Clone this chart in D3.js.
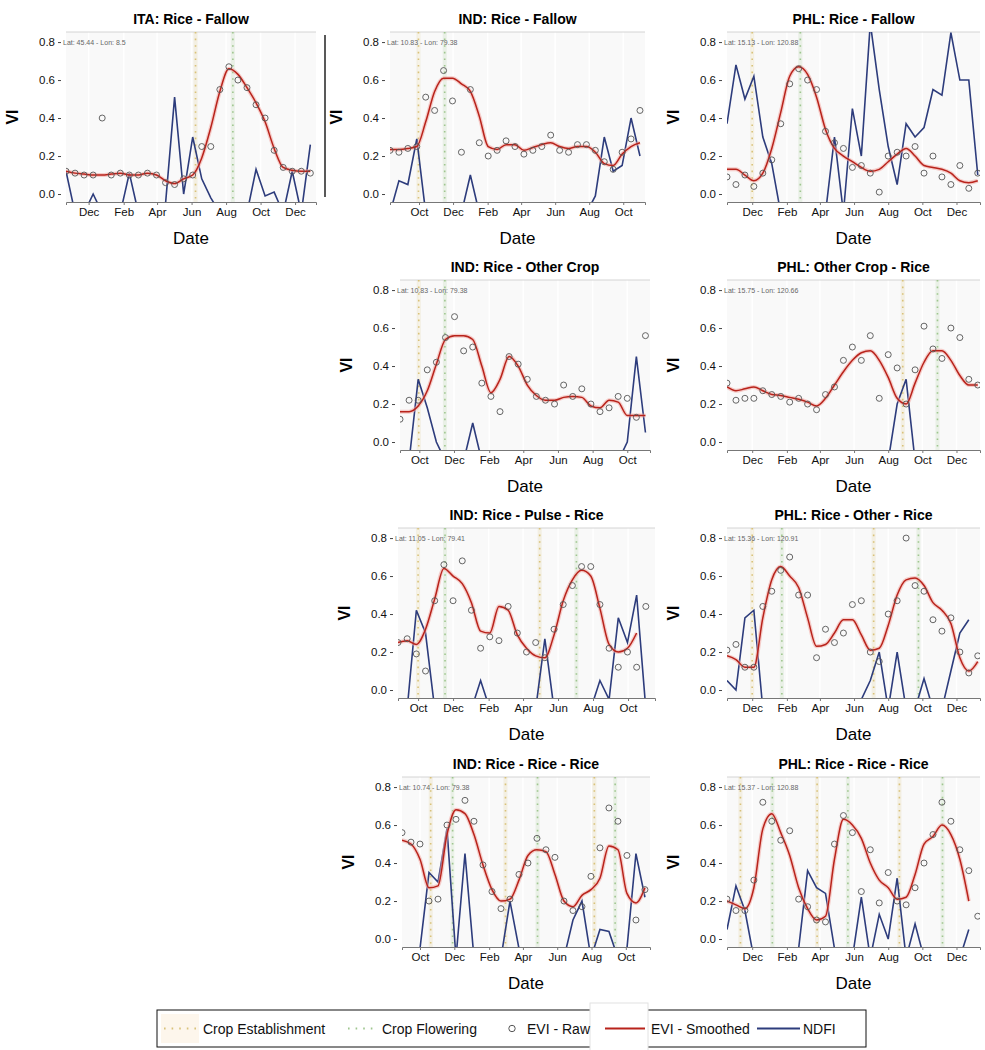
<!DOCTYPE html>
<html>
<head>
<meta charset="utf-8">
<script src="https://cdn.jsdelivr.net/npm/d3@7"></script>
<style>
  body { margin: 0; background: #fff; }
  svg { display: block; font-family: "Liberation Sans", Arial, sans-serif; }
</style>
</head>
<body>
<svg id="chart" width="985" height="1050"></svg>
<script>
// ---- data (16-day composites) ----
const panelTitles = [
  'ITA: Rice - Fallow', 'IND: Rice - Fallow', 'PHL: Rice - Fallow',
  'IND: Rice - Other Crop', 'PHL: Other Crop - Rice',
  'IND: Rice - Pulse - Rice', 'PHL: Rice - Other - Rice',
  'IND: Rice - Rice - Rice', 'PHL: Rice - Rice - Rice'
];
const panelCoords = [
  'Lat: 45.44 - Lon: 8.5', 'Lat: 10.83 - Lon: 79.38', 'Lat: 15.13 - Lon: 120.88',
  'Lat: 10.83 - Lon: 79.38', 'Lat: 15.75 - Lon: 120.66',
  'Lat: 11.05 - Lon: 79.41', 'Lat: 15.36 - Lon: 120.91',
  'Lat: 10.74 - Lon: 79.38', 'Lat: 15.37 - Lon: 120.88'
];
const seriesStart = ['2014-10-22', '2015-08-10', '2014-10-17', '2015-08-28', '2014-10-17',
                     '2015-08-27', '2014-10-17', '2015-08-30', '2014-10-17'];
const domainEnd = ['2016-01-07', '2016-11-09', '2016-01-12', '2016-11-10', '2016-01-12',
                   '2016-11-17', '2016-01-12', '2016-11-13', '2016-01-12'];
const stepDays = 16;

const establishment = [
  ['2015-06-08'], ['2015-09-30'], ['2014-12-01'], ['2015-09-30'], ['2015-08-27'],
  ['2015-10-01', '2016-04-30'], ['2014-12-01', '2015-07-06'],
  ['2015-10-20', '2016-03-01', '2016-08-06'], ['2014-11-10', '2015-03-27', '2015-08-21']
];
const flowering = [
  ['2015-08-13'], ['2015-11-16'], ['2015-02-25'], ['2015-11-15'], ['2015-10-28'],
  ['2015-11-17', '2016-07-03'], ['2015-01-23', '2015-09-24'],
  ['2015-11-28', '2016-04-27', '2016-09-12'], ['2015-01-06', '2015-05-21', '2015-11-06']
];

// ITA: Rice - Fallow
const itaRF_smooth = [0.12,0.11,0.105,0.10,0.10,0.105,0.11,0.10,0.10,0.11,0.10,0.07,0.055,0.08,0.10,0.19,0.35,0.54,0.66,0.63,0.56,0.48,0.38,0.24,0.14,0.125,0.12,0.12];
const itaRF_raw    = [0.12,0.11,0.10,0.10,0.40,0.10,0.11,0.10,0.10,0.11,0.10,0.06,0.05,0.08,0.10,0.25,0.25,0.55,0.67,0.60,0.56,0.47,0.40,0.23,0.14,0.12,0.12,0.11];
const itaRF_ndfi   = [0.12,-0.1,-0.1,0.0,-0.1,-0.1,-0.1,0.11,-0.1,-0.1,-0.1,-0.05,0.51,0.0,0.30,0.08,-0.02,-0.1,-0.1,-0.1,-0.1,0.13,-0.01,0.01,-0.1,0.12,-0.1,0.26];
// IND: Rice - Fallow
const indRF_smooth = [0.235,0.235,0.24,0.25,0.38,0.54,0.61,0.61,0.58,0.54,0.41,0.25,0.235,0.26,0.26,0.23,0.245,0.26,0.27,0.25,0.24,0.25,0.25,0.22,0.16,0.15,0.21,0.25,0.27];
const indRF_raw    = [0.23,0.22,0.24,0.25,0.51,0.44,0.65,0.49,0.22,0.55,0.27,0.20,0.23,0.28,0.25,0.21,0.23,0.25,0.31,0.23,0.22,0.26,0.26,0.23,0.17,0.13,0.22,0.29,0.44];
const indRF_ndfi   = [-0.1,0.07,0.05,0.29,-0.1,-0.1,-0.1,-0.1,-0.1,0.10,-0.1,-0.1,-0.1,-0.1,-0.1,-0.1,-0.1,-0.1,-0.1,-0.1,-0.1,-0.1,-0.1,-0.01,0.30,0.12,0.15,0.40,0.20];
// PHL: Rice - Fallow
const phlRF_smooth = [0.13,0.13,0.10,0.07,0.11,0.24,0.43,0.62,0.67,0.63,0.51,0.34,0.24,0.20,0.17,0.14,0.12,0.13,0.17,0.21,0.24,0.20,0.15,0.14,0.13,0.11,0.07,0.06,0.07];
const phlRF_raw    = [0.09,0.05,0.10,0.04,0.11,0.18,0.37,0.58,0.66,0.60,0.55,0.33,0.27,0.24,0.14,0.15,0.11,0.01,0.20,0.22,0.20,0.25,0.11,0.20,0.09,0.05,0.15,0.03,0.11];
const phlRF_ndfi   = [0.37,0.68,0.50,0.62,0.30,0.16,-0.1,-0.1,-0.1,-0.1,-0.1,-0.1,0.30,-0.1,0.45,0.20,0.90,0.55,0.25,0.05,0.37,0.30,0.35,0.55,0.52,0.85,0.60,0.60,0.10];
// IND: Rice - Other Crop
const indROC_smooth = [0.16,0.16,0.19,0.27,0.41,0.54,0.56,0.56,0.54,0.40,0.26,0.33,0.45,0.40,0.30,0.245,0.22,0.22,0.235,0.24,0.235,0.19,0.18,0.22,0.21,0.14,0.14,0.14];
const indROC_raw    = [0.12,0.22,0.22,0.38,0.42,0.55,0.66,0.48,0.50,0.31,0.24,0.16,0.45,0.41,0.33,0.24,0.22,0.20,0.30,0.24,0.28,0.20,0.16,0.18,0.24,0.23,0.13,0.56];
const indROC_ndfi   = [-0.1,-0.1,0.33,0.18,0.0,-0.1,-0.1,-0.1,0.10,-0.1,-0.1,-0.1,-0.1,-0.1,-0.1,-0.1,-0.1,-0.1,-0.1,-0.1,-0.1,-0.1,-0.1,-0.1,-0.1,0.0,0.45,0.05];
// PHL: Other Crop - Rice
const phlOCR_smooth = [0.29,0.27,0.28,0.29,0.27,0.25,0.245,0.235,0.225,0.21,0.19,0.23,0.30,0.37,0.43,0.47,0.48,0.43,0.34,0.23,0.20,0.31,0.42,0.48,0.48,0.43,0.35,0.30,0.30];
const phlOCR_raw    = [0.31,0.22,0.23,0.23,0.27,0.25,0.24,0.21,0.23,0.20,0.17,0.25,0.29,0.43,0.50,0.43,0.56,0.23,0.46,0.39,0.20,0.38,0.61,0.49,0.44,0.60,0.55,0.33,0.30];
const phlOCR_ndfi   = [-0.1,-0.1,-0.1,-0.1,-0.1,-0.1,-0.1,-0.1,-0.1,-0.1,-0.1,-0.1,-0.1,-0.1,-0.1,-0.1,-0.1,-0.1,-0.1,0.20,0.33,-0.1,-0.1,-0.1,-0.1,-0.1,-0.1,-0.1,-0.1];
// IND: Rice - Pulse - Rice
const indRPR_smooth = [0.25,0.26,0.24,0.32,0.48,0.64,0.60,0.56,0.46,0.31,0.30,0.44,0.42,0.29,0.22,0.18,0.17,0.29,0.47,0.58,0.63,0.60,0.43,0.24,0.20,0.22,0.30];
const indRPR_raw    = [0.25,0.27,0.19,0.10,0.47,0.66,0.47,0.68,0.42,0.22,0.28,0.26,0.44,0.30,0.20,0.25,0.17,0.32,0.45,0.55,0.65,0.65,0.45,0.22,0.12,0.20,0.12,0.44];
const indRPR_ndfi   = [-0.1,-0.1,0.42,0.30,-0.1,-0.1,-0.1,-0.1,-0.1,0.05,-0.1,-0.1,-0.1,-0.1,-0.1,-0.1,0.27,-0.1,-0.1,-0.1,-0.1,-0.1,0.05,-0.05,0.38,0.25,0.50,-0.1];
// PHL: Rice - Other - Rice
const phlROR_smooth = [0.18,0.16,0.12,0.12,0.38,0.58,0.65,0.60,0.54,0.38,0.23,0.24,0.30,0.37,0.37,0.29,0.21,0.22,0.34,0.50,0.58,0.59,0.55,0.46,0.42,0.35,0.17,0.10,0.15];
const phlROR_raw    = [0.21,0.24,0.12,0.12,0.44,0.52,0.63,0.70,0.50,0.50,0.17,0.32,0.25,0.30,0.45,0.47,0.20,0.15,0.40,0.47,0.80,0.55,0.52,0.37,0.31,0.38,0.20,0.09,0.18];
const phlROR_ndfi   = [0.05,0.0,0.38,0.42,-0.1,-0.1,-0.1,-0.1,-0.1,-0.1,-0.1,-0.1,-0.1,-0.1,-0.1,-0.05,0.05,0.20,-0.1,0.20,-0.1,-0.1,0.06,-0.1,-0.1,0.10,0.30,0.37];
// IND: Rice - Rice - Rice
const indRRR_smooth = [0.52,0.50,0.42,0.27,0.28,0.55,0.68,0.66,0.55,0.39,0.26,0.20,0.21,0.31,0.44,0.47,0.46,0.34,0.20,0.17,0.23,0.26,0.32,0.49,0.47,0.24,0.19,0.27];
const indRRR_raw    = [0.56,0.51,0.50,0.20,0.21,0.60,0.63,0.73,0.62,0.39,0.25,0.16,0.21,0.34,0.40,0.53,0.47,0.43,0.20,0.15,0.17,0.33,0.48,0.69,0.62,0.44,0.10,0.26];
const indRRR_ndfi   = [-0.1,-0.1,-0.05,0.35,0.30,0.58,-0.1,0.45,-0.1,-0.1,-0.1,-0.1,0.20,-0.05,-0.1,-0.1,-0.1,-0.1,-0.1,0.10,0.20,-0.1,0.05,0.04,-0.1,-0.05,0.45,0.22];
// PHL: Rice - Rice - Rice
const phlRRR_smooth = [0.20,0.18,0.16,0.27,0.58,0.66,0.56,0.44,0.27,0.16,0.10,0.12,0.42,0.63,0.60,0.53,0.40,0.31,0.27,0.21,0.22,0.34,0.50,0.54,0.60,0.55,0.42,0.20];
const phlRRR_raw    = [0.21,0.15,0.15,0.31,0.72,0.62,0.52,0.57,0.21,0.17,0.10,0.09,0.50,0.65,0.56,0.25,0.47,0.19,0.35,0.20,0.18,0.27,0.40,0.55,0.72,0.62,0.47,0.36,0.12];
const phlRRR_ndfi   = [0.05,0.28,0.15,-0.1,-0.1,-0.1,-0.1,-0.1,-0.05,0.36,0.27,0.24,-0.05,-0.1,-0.1,0.22,-0.1,0.13,0.0,0.32,-0.1,0.08,-0.1,-0.1,-0.1,-0.1,-0.1,0.05];

const yTicks = [0, 0.2, 0.4, 0.6, 0.8];
const legendLabels = ['Crop Establishment', 'Crop Flowering', 'EVI - Raw', 'EVI - Smoothed', 'NDFI'];

// ---- layout ----
const rowTop = [32, 280, 528, 777];
const plotH = 170;
const panelBox = [            // [row, left, right]
  [0, 66, 316], [0, 390, 645], [0, 727, 980],
  [1, 400, 650], [1, 727, 980],
  [2, 398, 655], [2, 727, 980],
  [3, 402, 650], [3, 727, 980]
];
const series = [
  [itaRF_smooth, itaRF_raw, itaRF_ndfi], [indRF_smooth, indRF_raw, indRF_ndfi],
  [phlRF_smooth, phlRF_raw, phlRF_ndfi], [indROC_smooth, indROC_raw, indROC_ndfi],
  [phlOCR_smooth, phlOCR_raw, phlOCR_ndfi], [indRPR_smooth, indRPR_raw, indRPR_ndfi],
  [phlROR_smooth, phlROR_raw, phlROR_ndfi], [indRRR_smooth, indRRR_raw, indRRR_ndfi],
  [phlRRR_smooth, phlRRR_raw, phlRRR_ndfi]
];

const colors = {
  est: '#d9c27a', flow: '#9fc68f', raw: '#555', smooth: '#b8231b', halo: '#f3a7a2', ndfi: '#2d3c7c'
};

const parse = d3.timeParse('%Y-%m-%d');
const svg = d3.select('#chart');

panelBox.forEach(([row, left, right], p) => {
  const top = rowTop[row];
  const bottom = top + plotH;
  const start = parse(seriesStart[p]);
  const x = d3.scaleTime().domain([start, parse(domainEnd[p])]).range([left, right]);
  const y = d3.scaleLinear().domain([-0.042, 0.853]).range([bottom, top]);
  const dateAt = i => d3.timeDay.offset(start, i * stepDays);

  const g = svg.append('g');

  // panel background + grid
  g.append('rect').attr('x', left).attr('y', top).attr('width', right - left).attr('height', plotH)
    .attr('fill', '#f9f9f9');
  const monthTicks = d3.timeMonth.range(x.domain()[0], x.domain()[1]).filter(d => d.getMonth() % 2 === 1);
  g.selectAll('.grid').data(monthTicks).enter().append('line')
    .attr('x1', d => x(d)).attr('x2', d => x(d)).attr('y1', top).attr('y2', bottom)
    .style('stroke', '#fff').style('stroke-width', 1.5);
  g.append('line').attr('x1', left).attr('x2', right).attr('y1', top).attr('y2', top)
    .style('stroke', '#d4d4d4');

  const clipId = 'clip' + p;
  svg.append('clipPath').attr('id', clipId).append('rect')
    .attr('x', left).attr('y', top).attr('width', right - left).attr('height', plotH);
  const inner = g.append('g').attr('clip-path', `url(#${clipId})`);

  // crop calendar lines
  const vlines = establishment[p].map(d => ({ d: parse(d), c: colors.est }))
    .concat(flowering[p].map(d => ({ d: parse(d), c: colors.flow })));
  inner.selectAll('.vband').data(vlines).enter().append('line')
    .attr('x1', d => x(d.d)).attr('x2', d => x(d.d)).attr('y1', top).attr('y2', bottom)
    .style('stroke', d => d.c).style('stroke-opacity', 0.18).style('stroke-width', 4);
  inner.selectAll('.vline').data(vlines).enter().append('line')
    .attr('x1', d => x(d.d)).attr('x2', d => x(d.d)).attr('y1', top).attr('y2', bottom)
    .style('stroke', d => d.c).style('stroke-width', 1.6).style('stroke-dasharray', '1.6,5');

  const [smooth, raw, ndfi] = series[p];
  const line = d3.line().defined(d => d != null).x((d, i) => x(dateAt(i))).y(d => y(d));

  inner.append('path').datum(ndfi)
    .attr('d', line.curve(d3.curveLinear))
    .style('fill', 'none').style('stroke', colors.ndfi).style('stroke-width', 1.6);

  const smoothLine = d3.line().x((d, i) => x(dateAt(i))).y(d => y(d)).curve(d3.curveMonotoneX);
  inner.append('path').datum(smooth).attr('d', smoothLine)
    .style('fill', 'none').style('stroke', colors.halo).style('stroke-width', 4).style('stroke-opacity', 0.55);
  inner.append('path').datum(smooth).attr('d', smoothLine)
    .style('fill', 'none').style('stroke', colors.smooth).style('stroke-width', 1.5);

  inner.selectAll('.raw').data(raw).enter().append('circle')
    .attr('cx', (d, i) => x(dateAt(i))).attr('cy', d => y(d)).attr('r', 3)
    .style('fill', 'none').style('stroke', colors.raw).style('stroke-width', 0.9);

  // coordinates label
  g.append('text').attr('x', left - 3).attr('y', y(0.8) + 2.5)
    .text(panelCoords[p]).style('font-size', '7px').style('fill', '#666');

  // x axis
  const xAxis = d3.axisBottom(x).tickValues(monthTicks).tickFormat(d3.timeFormat('%b'))
    .tickSize(3).tickPadding(3);
  const xg = g.append('g').attr('transform', `translate(0,${bottom})`).call(xAxis);
  xg.select('.domain').style('stroke', '#777');
  xg.selectAll('.tick line').style('stroke', '#777');
  xg.selectAll('text').style('font-size', '11.5px').style('fill', '#111').style('font-family', 'inherit');

  // y axis
  const yAxis = d3.axisLeft(y).tickValues(yTicks).tickFormat(d3.format('.1f')).tickSize(3).tickPadding(3);
  const yg = g.append('g').attr('transform', `translate(${left - 5},0)`).call(yAxis);
  yg.select('.domain').remove();
  yg.selectAll('.tick line').style('stroke', '#444');
  yg.selectAll('text').style('font-size', '11.5px').style('fill', '#111').style('font-family', 'inherit');

  // titles
  g.append('text').attr('x', (left + right) / 2).attr('y', top - 8)
    .attr('text-anchor', 'middle').text(panelTitles[p])
    .style('font-size', '14px').style('font-weight', 'bold');
  g.append('text').attr('x', (left + right) / 2).attr('y', bottom + 42)
    .attr('text-anchor', 'middle').text('Date').style('font-size', '17px');
  g.append('text').attr('transform', `translate(${left - 48},${top + 85}) rotate(-90)`)
    .attr('text-anchor', 'middle').text('VI').style('font-size', '16px').style('font-weight', 'bold');
});

// stray frame line beside the first panel
svg.append('line').attr('x1', 325).attr('x2', 325).attr('y1', 35).attr('y2', 197)
  .style('stroke', '#222').style('stroke-width', 1.5);

// ---- legend ----
const lg = svg.append('g');
lg.append('rect').attr('x', 157).attr('y', 1010).attr('width', 709).attr('height', 37)
  .style('fill', '#fff').style('stroke', '#111').style('stroke-width', 1);
const ly = 1028.5;
lg.append('rect').attr('x', 161).attr('y', 1014).attr('width', 38).attr('height', 29).style('fill', '#fdf6ec');
lg.append('line').attr('x1', 164).attr('x2', 197).attr('y1', ly).attr('y2', ly)
  .style('stroke', colors.est).style('stroke-width', 1.8).style('stroke-dasharray', '1.6,6');
lg.append('line').attr('x1', 348).attr('x2', 378).attr('y1', ly).attr('y2', ly)
  .style('stroke', colors.flow).style('stroke-width', 1.8).style('stroke-dasharray', '1.6,6');
lg.append('circle').attr('cx', 512).attr('cy', ly).attr('r', 3.2)
  .style('fill', 'none').style('stroke', colors.raw).style('stroke-width', 1);
lg.append('rect').attr('x', 590).attr('y', 1003).attr('width', 58).attr('height', 48)
  .style('fill', '#fff').style('stroke', '#e2e2e2');
lg.append('line').attr('x1', 605).attr('x2', 645).attr('y1', ly).attr('y2', ly)
  .style('stroke', colors.smooth).style('stroke-width', 2.2);
lg.append('line').attr('x1', 757).attr('x2', 800).attr('y1', ly).attr('y2', ly)
  .style('stroke', colors.ndfi).style('stroke-width', 2.2);
const legendX = [203, 382, 527, 651, 803];
lg.selectAll('.ltext').data(legendLabels).enter().append('text')
  .attr('x', (d, i) => legendX[i]).attr('y', ly + 5)
  .text(d => d).style('font-size', '14px').style('fill', '#111');
</script>
</body>
</html>
